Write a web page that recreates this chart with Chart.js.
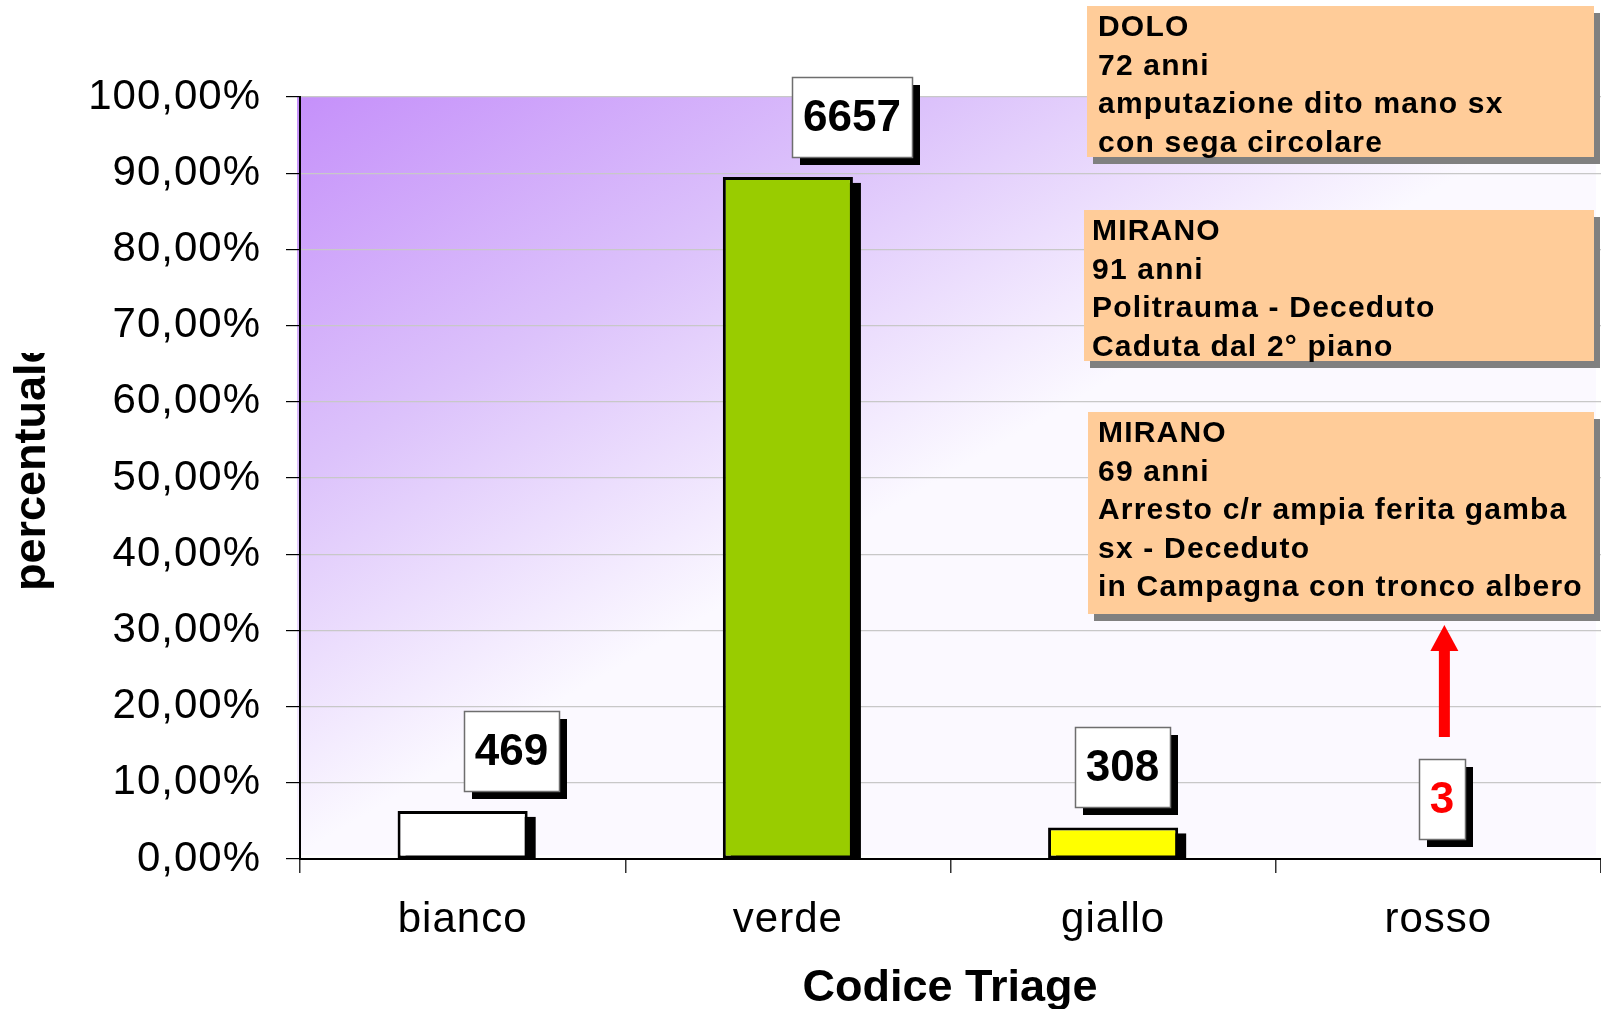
<!DOCTYPE html>
<html>
<head>
<meta charset="utf-8">
<title>Codice Triage</title>
<script src="https://cdn.jsdelivr.net/npm/chart.js@4.4.1/dist/chart.umd.min.js"></script>
<style>
  html, body { margin: 0; padding: 0; background: #fff; }
  canvas { display: block; }
</style>
</head>
<body>
<canvas id="triage" width="1601" height="1009"></canvas>
<script>
// accessi per codice triage
var categorie = ['bianco', 'verde', 'giallo', 'rosso'];
var percentuali = [6.31, 89.51, 4.14, 0.04];
var casi = [469, 6657, 308, 3];
var colori = ['#ffffff', '#99cc00', '#ffff00', '#ff0000'];

// casi rossi
var notaDolo = ['DOLO', '72 anni', 'amputazione dito mano sx', 'con sega circolare'];
var notaMirano1 = ['MIRANO', '91 anni', 'Politrauma - Deceduto', 'Caduta dal 2° piano'];
var notaMirano2 = ['MIRANO', '69 anni', 'Arresto c/r ampia ferita gamba', 'sx - Deceduto', 'in Campagna con tronco albero'];

var FONT = "'Liberation Sans', Arial, sans-serif";

// sfondo sfumato viola -> bianco, e spaziatura delle scritte degli assi
var sfondo = {
  id: 'sfondo',
  beforeDraw: function (chart) {
    var ctx = chart.ctx, a = chart.chartArea;
    var x0 = a.left - 3, y0 = a.top - 1, w = a.right - a.left - 2, h = a.bottom - a.top - 3;
    var t = 1 / (1 / (w * w) + 1 / (h * h));
    var g = ctx.createLinearGradient(x0, y0, x0 + t / w, y0 + t / h);
    g.addColorStop(0, '#c590fa');
    g.addColorStop(0.5, '#dcc2fb');
    g.addColorStop(1, '#fbf9ff');
    ctx.save();
    ctx.fillStyle = g;
    ctx.fillRect(x0, y0, w, h);
    ctx.restore();
    ctx.letterSpacing = '1px';
  }
};

// ombra nera a destra delle barre
var ombraBarre = {
  id: 'ombraBarre',
  beforeDatasetsDraw: function (chart) {
    var ctx = chart.ctx, a = chart.chartArea;
    ctx.save();
    ctx.beginPath();
    ctx.rect(a.left, a.top, a.right - a.left, a.bottom - a.top);
    ctx.clip();
    ctx.fillStyle = '#000';
    chart.getDatasetMeta(0).data.forEach(function (bar) {
      var h = bar.base - bar.y;
      if (h < 2) return;
      ctx.fillRect(bar.x - bar.width / 2 + 8, bar.y + 6, bar.width, h);
    });
    ctx.restore();
  }
};

// etichette con il numero di casi, freccia e note
var spostaEtichette = [49, 64, 9, 4];
var note = [
  { righe: notaDolo, x: 1087, y: 6, w: 507, h: 151, tx: 1098 },
  { righe: notaMirano1, x: 1084, y: 210, w: 510, h: 151, tx: 1092 },
  { righe: notaMirano2, x: 1088, y: 412, w: 506, h: 202, tx: 1098 }
];

var etichette = {
  id: 'etichette',
  afterDatasetsDraw: function (chart) {
    var ctx = chart.ctx;
    ctx.save();
    ctx.letterSpacing = '0px';
    ctx.font = 'bold 44px ' + FONT;
    ctx.textAlign = 'center';
    ctx.textBaseline = 'middle';
    chart.getDatasetMeta(0).data.forEach(function (bar, i) {
      var testo = String(casi[i]);
      var w = Math.round(ctx.measureText(testo).width + 22);
      var cx = bar.x + spostaEtichette[i];
      var x = Math.round(cx - w / 2), y = Math.round(bar.y - 100);
      ctx.fillStyle = '#000';
      ctx.fillRect(x + 8, y + 8, w, 80);
      ctx.fillStyle = '#fff';
      ctx.fillRect(x, y, w, 80);
      ctx.strokeStyle = '#6e6e6e';
      ctx.lineWidth = 1.5;
      ctx.strokeRect(x + 0.5, y + 0.5, w, 80);
      ctx.fillStyle = i === 3 ? '#ff0000' : '#000';
      ctx.fillText(testo, x + w / 2, y + 42);

      if (i === 3) {
        // freccia verso la nota
        var ax = cx + 2, fondo = y - 22, punta = 625;
        ctx.fillStyle = '#ff0000';
        ctx.fillRect(ax - 5.5, punta + 25, 11, fondo - punta - 25);
        ctx.beginPath();
        ctx.moveTo(ax, punta);
        ctx.lineTo(ax + 14, punta + 26);
        ctx.lineTo(ax - 14, punta + 26);
        ctx.closePath();
        ctx.fill();
      }
    });

    note.forEach(function (n) {
      ctx.fillStyle = '#808080';
      ctx.fillRect(n.x + 6, n.y + 7, n.w, n.h);
      ctx.fillStyle = '#ffcc99';
      ctx.fillRect(n.x, n.y, n.w, n.h);
      ctx.fillStyle = '#000';
      ctx.font = 'bold 30px ' + FONT;
      ctx.letterSpacing = '1.2px';
      ctx.textAlign = 'left';
      ctx.textBaseline = 'alphabetic';
      n.righe.forEach(function (r, k) {
        ctx.fillText(r, n.tx, n.y + 30 + k * 38.5);
      });
    });
    ctx.restore();
  },
  afterDraw: function (chart) {
    var ctx = chart.ctx;
    ctx.letterSpacing = '0px';
    ctx.save();
    ctx.fillStyle = '#000';
    ctx.textBaseline = 'alphabetic';

    // titolo asse orizzontale
    ctx.font = 'bold 45px ' + FONT;
    ctx.textAlign = 'center';
    ctx.fillText('Codice Triage', 950, 1001);

    // titolo asse verticale, tagliato in alto
    ctx.beginPath();
    ctx.rect(0, 353, 120, 400);
    ctx.clip();
    ctx.translate(45, 591);
    ctx.rotate(-Math.PI / 2);
    ctx.font = 'bold 45px ' + FONT;
    ctx.textAlign = 'left';
    ctx.fillText('percentuale', 0, 0);
    ctx.restore();
  }
};

var grafico = new Chart(document.getElementById('triage'), {
  type: 'bar',
  data: {
    labels: categorie,
    datasets: [{
      data: percentuali,
      backgroundColor: colori,
      borderColor: '#000',
      borderWidth: 3,
      borderSkipped: false,
      barPercentage: 0.4,
      categoryPercentage: 1
    }]
  },
  options: {
    responsive: false,
    animation: false,
    devicePixelRatio: 1,
    layout: { padding: { top: 97, left: 0, right: 0, bottom: 0 } },
    plugins: {
      legend: { display: false },
      tooltip: { enabled: false }
    },
    scales: {
      y: {
        min: 0,
        max: 100,
        ticks: {
          stepSize: 10,
          color: '#000',
          padding: 25,
          font: { family: FONT, size: 42 },
          callback: function (v) { return v.toFixed(2).replace('.', ',') + '%'; }
        },
        grid: { color: '#c8c8c8', lineWidth: 1.2, tickColor: '#000', tickLength: 14 },
        border: { color: '#000', width: 2 },
        afterFit: function (s) { s.width = 300; }
      },
      x: {
        ticks: { color: '#000', padding: 22, font: { family: FONT, size: 42 } },
        grid: { offset: true, drawOnChartArea: false, tickLength: 14, tickColor: '#333', lineWidth: 1.5 },
        border: { color: '#000', width: 2 },
        afterFit: function (s) { s.height = 150; }
      }
    }
  },
  plugins: [sfondo, ombraBarre, etichette]
});
</script>
</body>
</html>
